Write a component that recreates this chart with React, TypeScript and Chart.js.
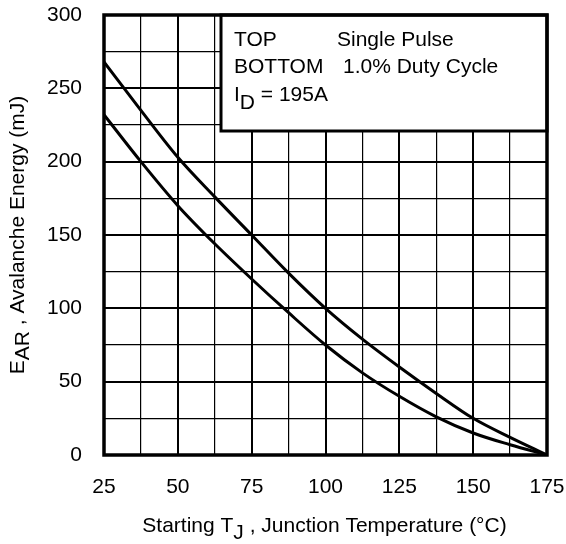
import React, { useEffect, useRef } from 'react';
import { Chart, registerables } from 'chart.js';
Chart.register(...registerables);

const temperatures = [25, 37.5, 50, 62.5, 75, 87.5, 100, 112.5, 125, 137.5, 150, 162.5, 175];
const singlePulse = [268, 235, 203, 176, 150, 124, 100, 79, 60, 42, 25, 12, 0];
const dutyCycle = [232, 200, 170, 144, 120, 97, 75, 56, 40, 26, 15, 7, 0];
const xTickValues = [25, 50, 75, 100, 125, 150, 175];
const yTickValues = [0, 50, 100, 150, 200, 250, 300];
const legendLines = ['TOP', 'Single Pulse', 'BOTTOM', '1.0% Duty Cycle', 'I', 'D', ' = 195A'];
const yTitleRuns: [string, number][] = [['E', 0], ['AR', 5], [' , Avalanche Energy (mJ)', 0]];
const xTitleRuns: [string, number][] = [['Starting T', 0], ['J', 7], [' , Junction Temperature (°C)', 0]];

const FAMILY = '"Liberation Sans", Arial, Helvetica, sans-serif';
const TICK_FONT = 21;
const TEXT_FONT = 21;

function drawRuns(ctx: CanvasRenderingContext2D, runs: [string, number][], x: number, y: number, center: boolean) {
  let total = 0;
  for (const [t] of runs) total += ctx.measureText(t).width;
  let cx = center ? x - total / 2 : x;
  for (const [t, dy] of runs) {
    ctx.fillText(t, cx, y + dy);
    cx += ctx.measureText(t).width;
  }
}

const decorPlugin = {
  id: 'decor',
  afterDatasetsDraw(chart: any) {
    const { ctx, chartArea } = chart;
    const { left, right, top, bottom } = chartArea;
    ctx.save();
    // legend box
    const bx = 221, by = top, bw = right - 221, bh = 116;
    ctx.fillStyle = '#fff';
    ctx.fillRect(bx, by, bw, bh);
    ctx.lineWidth = 3;
    ctx.strokeStyle = '#000';
    ctx.strokeRect(bx, by, bw, bh);
    ctx.fillStyle = '#000';
    ctx.font = `${TEXT_FONT}px ${FAMILY}`;
    ctx.textBaseline = 'alphabetic';
    ctx.textAlign = 'left';
    ctx.fillText(legendLines[0], 234, 46);
    ctx.fillText(legendLines[1], 337, 46);
    ctx.fillText(legendLines[2], 234, 73);
    ctx.fillText(legendLines[3], 343, 73);
    drawRuns(ctx, [[legendLines[4], 0], [legendLines[5], 8], [legendLines[6], 0]], 234, 101, false);
    // frame
    ctx.lineWidth = 3.5;
    ctx.strokeRect(left, top, right - left, bottom - top);
    // axis titles
    ctx.font = `${TEXT_FONT}px ${FAMILY}`;
    drawRuns(ctx, xTitleRuns, (left + right) / 2 - 1, 532, true);
    ctx.translate(24, (top + bottom) / 2);
    ctx.rotate(-Math.PI / 2);
    drawRuns(ctx, yTitleRuns, 0, 0, true);
    ctx.restore();
  },
};

export default function App() {
  const ref = useRef<HTMLCanvasElement>(null);
  useEffect(() => {
    document.body.style.margin = '0';
    const canvas = ref.current!;
    const chart = new Chart(canvas, {
      type: 'line',
      data: {
        datasets: [
          {
            label: 'Single Pulse',
            data: temperatures.map((t, i) => ({ x: t, y: singlePulse[i] })),
            borderColor: '#000',
            borderWidth: 3,
            pointRadius: 0,
            cubicInterpolationMode: 'monotone',
          },
          {
            label: '1.0% Duty Cycle',
            data: temperatures.map((t, i) => ({ x: t, y: dutyCycle[i] })),
            borderColor: '#000',
            borderWidth: 3,
            pointRadius: 0,
            cubicInterpolationMode: 'monotone',
          },
        ],
      },
      options: {
        animation: false,
        responsive: false,
        devicePixelRatio: 1,
        layout: { padding: { top: 15, right: 19, left: 0, bottom: 0 } },
        plugins: { legend: { display: false }, tooltip: { enabled: false } },
        scales: {
          x: {
            type: 'linear',
            min: 25,
            max: 175,
            afterBuildTicks: (scale: any) => {
              const t: any[] = [];
              for (let v = 25; v <= 175; v += 12.5) t.push({ value: v });
              scale.ticks = t;
            },
            ticks: {
              callback: (v: any) => (xTickValues.includes(Number(v)) ? String(v) : ''),
              color: '#000',
              font: { family: FAMILY, size: TICK_FONT },
              padding: 20,
              maxRotation: 0,
              autoSkip: false,
            },
            grid: {
              color: '#000',
              lineWidth: (c: any) => (c.tick && xTickValues.includes(c.tick.value) ? 2 : 1.2),
              drawTicks: false,
            },
            border: { display: false },
            afterFit: (scale: any) => {
              scale.height = 89;
              scale.paddingLeft = 0;
              scale.paddingRight = 0;
            },
          },
          y: {
            type: 'linear',
            min: 0,
            max: 300,
            afterBuildTicks: (scale: any) => {
              const t: any[] = [];
              for (let v = 0; v <= 300; v += 25) t.push({ value: v });
              scale.ticks = t;
            },
            ticks: {
              callback: (v: any) => (yTickValues.includes(Number(v)) ? String(v) : ''),
              color: '#000',
              font: { family: FAMILY, size: TICK_FONT },
              padding: 22,
              autoSkip: false,
            },
            grid: {
              color: '#000',
              lineWidth: (c: any) => (c.tick && yTickValues.includes(c.tick.value) ? 2 : 1.2),
              drawTicks: false,
            },
            border: { display: false },
            afterFit: (scale: any) => {
              scale.width = 104;
              scale.paddingTop = 0;
              scale.paddingBottom = 0;
            },
          },
        },
      },
      plugins: [decorPlugin],
    });
    return () => chart.destroy();
  }, []);
  return <canvas ref={ref} width={566} height={544} style={{ display: 'block' }} />;
}
